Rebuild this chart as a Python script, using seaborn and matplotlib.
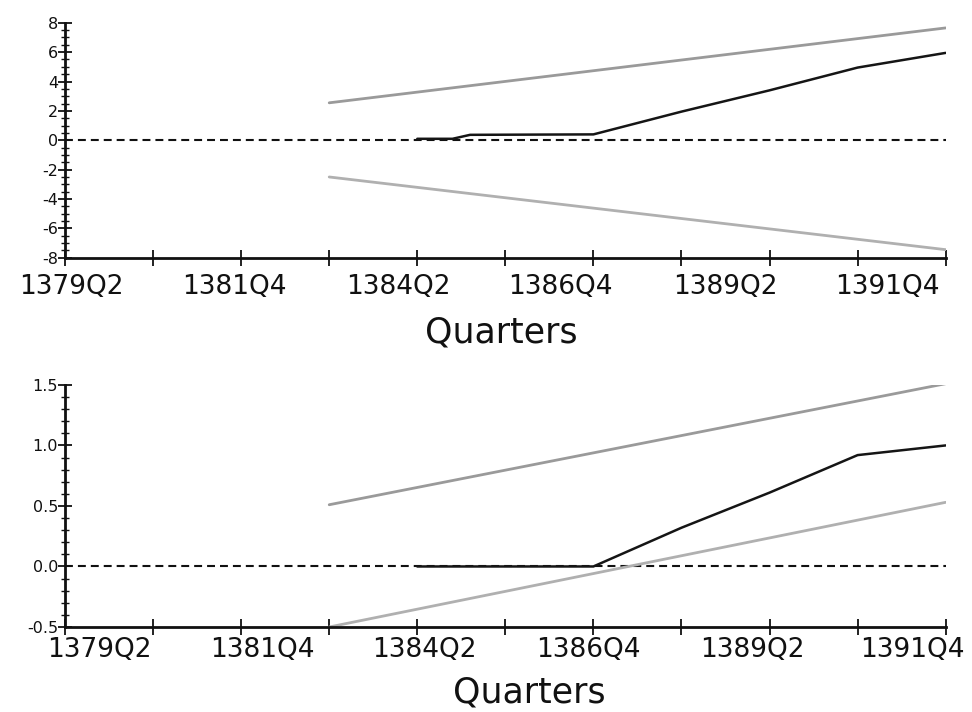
import matplotlib
matplotlib.use("Agg")
import matplotlib.pyplot as plt
import pandas as pd
import seaborn as sns
from matplotlib.ticker import FixedLocator, MultipleLocator, FormatStrFormatter


def q_index(label):
    """Number of quarters elapsed since 1379Q2."""
    year, q = int(label[:4]), int(label[-1])
    return (year - 1379) * 4 + (q - 2)


tick_labels = ["1379Q2", "1381Q4", "1384Q2", "1386Q4", "1389Q2", "1391Q4"]

# CUSUM test
band_quarters = ["1383Q1", "1391Q4"]
cusum_upper = [2.55, 7.65]
cusum_lower = [-2.5, -7.45]
cusum_quarters = ["1384Q2", "1384Q4", "1385Q1", "1386Q4", "1388Q1",
                  "1389Q2", "1390Q3", "1391Q4"]
cusum_values = [0.1, 0.1, 0.37, 0.4, 1.95, 3.4, 4.95, 5.95]

# CUSUM of squares test
sq_upper = [0.51, 1.51]
sq_lower = [-0.5, 0.53]
sq_quarters = ["1384Q2", "1386Q4", "1388Q1", "1389Q2", "1390Q3", "1391Q4"]
sq_values = [0.0, 0.0, 0.32, 0.61, 0.92, 1.0]

sns.set_style("white")
plt.rcParams["font.family"] = ["DejaVu Sans"]

fig = plt.figure(figsize=(9.72, 7.12), dpi=100)
ax1 = fig.add_axes([0.0669, 0.638, 0.906, 0.330])
ax2 = fig.add_axes([0.0669, 0.1194, 0.906, 0.340])

band_x = [q_index(q) for q in band_quarters]


def draw_panel(ax, upper, lower, quarters, values, label_pos, label_pad,
               xlabel_xy):
    df_band = pd.DataFrame({"x": band_x, "upper": upper, "lower": lower})
    sns.lineplot(data=df_band, x="x", y="upper", ax=ax, color="#9a9a9a", lw=2)
    sns.lineplot(data=df_band, x="x", y="lower", ax=ax, color="#b0b0b0", lw=2)
    df_line = pd.DataFrame({"x": [q_index(q) for q in quarters], "y": values})
    sns.lineplot(data=df_line, x="x", y="y", ax=ax, color="#151515", lw=1.8)
    ax.axhline(0, color="#111111", lw=1.5, ls=(0, (3.8, 2.4)), zorder=1)

    ax.set_xlim(0, 50)
    # period labels sit on their own positions; tick marks every 5 quarters
    ax.xaxis.set_major_locator(FixedLocator(label_pos))
    ax.set_xticklabels(tick_labels)
    ax.xaxis.set_minor_locator(FixedLocator(range(0, 51, 5)))
    ax.tick_params(axis="x", which="major", length=0, labelsize=19,
                   pad=label_pad, bottom=True, labelcolor="#111111")
    ax.tick_params(axis="x", which="minor", direction="inout", length=12,
                   width=1.3, color="#111111", bottom=True)
    ax.tick_params(axis="y", which="major", direction="inout", length=10,
                   width=1.3, color="#111111", labelsize=11.5, pad=0,
                   left=True, labelcolor="#111111")
    ax.tick_params(axis="y", which="minor", direction="inout", length=6,
                   width=1.0, color="#111111", left=True)
    for s in ("top", "right"):
        ax.spines[s].set_visible(False)
    for s in ("left", "bottom"):
        ax.spines[s].set_linewidth(2)
        ax.spines[s].set_color("#111111")
    ax.set_xlabel("Quarters", fontsize=25, color="#111111")
    ax.xaxis.label.set_va("baseline")
    ax.xaxis.set_label_coords(*xlabel_xy)
    ax.set_ylabel("")


draw_panel(ax1, cusum_upper, cusum_lower, cusum_quarters, cusum_values,
           [0.34, 9.6, 18.9, 28.1, 37.5, 46.7], 12, (0.495, -0.362))
ax1.set_ylim(-8, 8)
ax1.yaxis.set_major_locator(MultipleLocator(2))
ax1.yaxis.set_minor_locator(MultipleLocator(0.5))
ax1.yaxis.set_major_formatter(FormatStrFormatter("%d"))

draw_panel(ax2, sq_upper, sq_lower, sq_quarters, sq_values,
           [1.93, 11.2, 20.4, 29.7, 39.0, 48.1], 7, (0.527, -0.31))
ax2.set_ylim(-0.5, 1.5)
ax2.yaxis.set_major_locator(MultipleLocator(0.5))
ax2.yaxis.set_minor_locator(MultipleLocator(0.1))
ax2.yaxis.set_major_formatter(FormatStrFormatter("%.1f"))

fig.savefig("out.png", dpi=100)
